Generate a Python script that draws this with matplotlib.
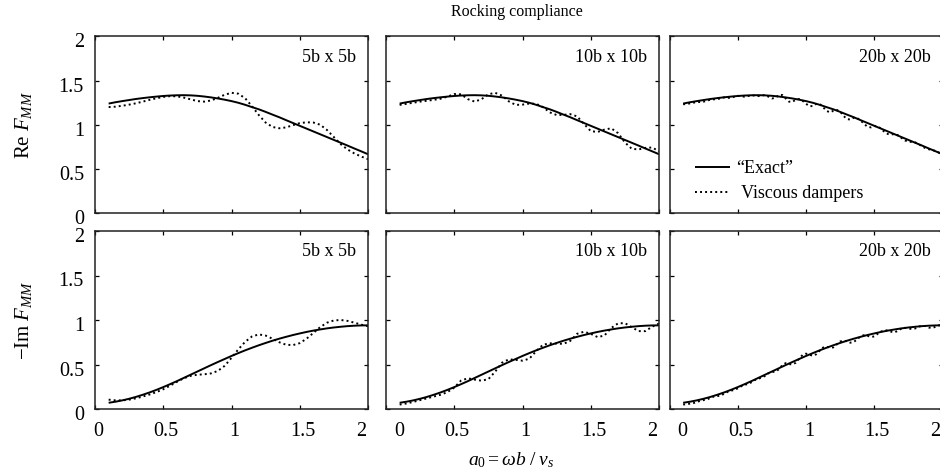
import numpy as np
import matplotlib
matplotlib.use("Agg")
import matplotlib.pyplot as plt
from matplotlib.transforms import ScaledTranslation

plt.rcParams["font.family"] = ["Liberation Serif", "DejaVu Serif"]
plt.rcParams["mathtext.fontset"] = "custom"
plt.rcParams["mathtext.rm"] = "Liberation Serif"
plt.rcParams["mathtext.it"] = "Liberation Serif:italic"
plt.rcParams["mathtext.bf"] = "Liberation Serif:bold"

# ---------------------------------------------------------------- data
# dimensionless frequency a0 = omega*b/vs
a0_coarse = np.linspace(0.1, 2.0, 39)   # step 0.05
a0_fine = np.linspace(0.1, 2.0, 77)     # step 0.025

# "Exact" rocking compliance (same reference solution in every panel)
exact_re = [1.240, 1.255, 1.268, 1.280, 1.292, 1.302, 1.311, 1.319, 1.326, 1.331,
            1.334, 1.335, 1.333, 1.328, 1.320, 1.310, 1.298, 1.284, 1.268, 1.249,
            1.226, 1.200, 1.175, 1.146, 1.115, 1.085, 1.052, 1.020, 0.988, 0.956,
            0.924, 0.892, 0.860, 0.828, 0.796, 0.764, 0.731, 0.699, 0.666]
exact_im = [0.070, 0.082, 0.097, 0.115, 0.136, 0.160, 0.186, 0.215, 0.246, 0.279,
            0.313, 0.349, 0.385, 0.421, 0.457, 0.493, 0.528, 0.562, 0.596, 0.628,
            0.659, 0.688, 0.716, 0.742, 0.767, 0.790, 0.811, 0.831, 0.849, 0.866,
            0.881, 0.894, 0.906, 0.916, 0.924, 0.931, 0.936, 0.939, 0.940]

# viscous-damper boundary, three truncated domain sizes
visc_re_5b = [1.200, 1.205, 1.215, 1.228, 1.243, 1.262, 1.282, 1.300, 1.315, 1.324,
              1.322, 1.308, 1.288, 1.268, 1.262, 1.275, 1.305, 1.340, 1.362, 1.352,
              1.300, 1.210, 1.110, 1.025, 0.975, 0.960, 0.970, 0.995, 1.018, 1.028,
              1.025, 1.000, 0.940, 0.860, 0.780, 0.720, 0.675, 0.640, 0.610]
visc_im_5b = [0.105, 0.097, 0.097, 0.105, 0.120, 0.140, 0.163, 0.190, 0.222, 0.262,
              0.305, 0.345, 0.372, 0.385, 0.390, 0.400, 0.428, 0.485, 0.575, 0.670,
              0.755, 0.815, 0.838, 0.825, 0.790, 0.750, 0.722, 0.718, 0.740, 0.790,
              0.855, 0.920, 0.970, 0.995, 1.000, 0.990, 0.970, 0.948, 0.930]

visc_re_10b = [1.225, 1.237, 1.250, 1.262, 1.272, 1.282, 1.295, 1.318, 1.348, 1.345,
               1.290, 1.262, 1.290, 1.345, 1.362, 1.330, 1.265, 1.225, 1.228, 1.240,
               1.238, 1.200, 1.140, 1.110, 1.112, 1.120, 1.095, 1.010, 0.928, 0.918,
               0.945, 0.960, 0.905, 0.800, 0.728, 0.720, 0.738, 0.742, 0.700]
visc_im_10b = [0.050, 0.062, 0.080, 0.100, 0.120, 0.140, 0.160, 0.190, 0.240, 0.320,
               0.345, 0.330, 0.318, 0.335, 0.420, 0.520, 0.558, 0.552, 0.543, 0.565,
               0.650, 0.722, 0.738, 0.735, 0.732, 0.765, 0.845, 0.868, 0.845, 0.808,
               0.825, 0.910, 0.962, 0.965, 0.920, 0.875, 0.875, 0.925, 0.960]

visc_re_20b = [1.232, 1.236, 1.242, 1.250, 1.256, 1.258, 1.262, 1.272, 1.285, 1.288,
               1.290, 1.300, 1.310, 1.305, 1.305, 1.318, 1.328, 1.322, 1.318, 1.325,
               1.335, 1.330, 1.325, 1.330, 1.338, 1.318, 1.298, 1.305, 1.335, 1.338,
               1.300, 1.262, 1.258, 1.285, 1.292, 1.272, 1.238, 1.210, 1.212, 1.236,
               1.236, 1.200, 1.158, 1.140, 1.158, 1.168, 1.150, 1.100, 1.065, 1.058,
               1.080, 1.075, 1.050, 1.010, 0.978, 0.970, 0.985, 0.982, 0.955, 0.918,
               0.895, 0.890, 0.895, 0.880, 0.850, 0.822, 0.808, 0.805, 0.800, 0.782,
               0.755, 0.735, 0.722, 0.714, 0.702, 0.684, 0.662]
visc_im_20b = [0.050, 0.055, 0.060, 0.066, 0.078, 0.092, 0.100, 0.108, 0.125, 0.140,
               0.145, 0.150, 0.172, 0.192, 0.205, 0.215, 0.232, 0.255, 0.270, 0.282,
               0.300, 0.325, 0.340, 0.352, 0.372, 0.402, 0.415, 0.420, 0.445, 0.490,
               0.515, 0.505, 0.500, 0.520, 0.565, 0.608, 0.622, 0.610, 0.598, 0.615,
               0.655, 0.690, 0.700, 0.690, 0.692, 0.725, 0.758, 0.770, 0.760, 0.745,
               0.752, 0.785, 0.815, 0.830, 0.822, 0.810, 0.815, 0.845, 0.870, 0.885,
               0.882, 0.868, 0.862, 0.880, 0.905, 0.912, 0.905, 0.898, 0.905, 0.925,
               0.935, 0.932, 0.915, 0.910, 0.925, 0.940, 0.945]

mesh_labels = ["5b x 5b", "10b x 10b", "20b x 20b"]
visc_re = [(a0_coarse, visc_re_5b), (a0_coarse, visc_re_10b), (a0_fine, visc_re_20b)]
visc_im = [(a0_coarse, visc_im_5b), (a0_coarse, visc_im_10b), (a0_fine, visc_im_20b)]

tick_values = [0, 0.5, 1, 1.5, 2]
tick_labels = ["0", "0.5", "1", "1.5", "2"]

# ---------------------------------------------------------------- figure
W, H, DPI = 940, 475, 100
fig = plt.figure(figsize=(W / DPI, H / DPI), dpi=DPI)


def px_axes(left, top, width, height):
    return fig.add_axes([left / W, 1 - (top + height) / H, width / W, height / H])


col_left = [95, 386, 669.5]
col_width = 273
rows = [(36.5, 176.5), (231, 178)]

solid_kw = dict(color="black", lw=1.4, ls="-", solid_capstyle="butt")
dot_kw = dict(color="black", lw=1.4, ls=(0, (1, 1.6)))


def offset(label, dx, dy):
    label.set_transform(label.get_transform() +
                        ScaledTranslation(dx / DPI, dy / DPI, fig.dpi_scale_trans))


axes = []
for r, (top, height) in enumerate(rows):
    for c in range(3):
        ax = px_axes(col_left[c], top, col_width, height)
        axes.append(ax)
        series = visc_re if r == 0 else visc_im
        exact = exact_re if r == 0 else exact_im
        ax.plot(a0_coarse, exact, label="\u201cExact\u201d", **solid_kw)
        ax.plot(series[c][0], series[c][1], label=" Viscous dampers", **dot_kw)

        ax.set_xlim(0, 2)
        ax.set_ylim(0, 2)
        ax.set_xticks(tick_values)
        ax.set_yticks(tick_values)
        ax.set_xticklabels(tick_labels)
        ax.set_yticklabels(tick_labels)
        ax.tick_params(direction="in", top=True, right=True, length=3, width=0.9,
                       labelsize=14.5, colors="black")
        ax.tick_params(axis="x", pad=9.5)
        ax.tick_params(axis="y", pad=8.0)
        ax.tick_params(labelbottom=(r == 1), labelleft=(c == 0))
        for sp in ax.spines.values():
            sp.set_linewidth(1.1)
            sp.set_color("#222222")

        ax.text(1 - 12 / col_width, 1 - 21 / height, mesh_labels[c],
                transform=ax.transAxes, ha="right", va="center", fontsize=13)

        if r == 1:
            for i, lab in enumerate(ax.get_xticklabels()):
                dx = 3
                if i == 0 and c > 0:
                    dx = 13
                if i == len(tick_values) - 1:
                    dx = -7
                offset(lab, dx, 0)
        if c == 0:
            for lab in ax.get_yticklabels():
                offset(lab, 0, -4)
            ylab = (r"$\mathrm{Re}\ F_{MM}$" if r == 0
                    else r"$-\mathrm{Im}\ F_{MM}$")
            ax.set_ylabel(ylab, fontsize=15, va="center")
            ax.yaxis.set_label_coords(-(95 - 23) / col_width, 0.5)

# legend in the upper-right panel
leg = axes[2].legend(loc="center left", bbox_to_anchor=(0.093, 0.18),
                     frameon=False, fontsize=13, handlelength=1.94,
                     handletextpad=0.37, labelspacing=0.45, borderpad=0,
                     borderaxespad=0)

fig.text(517 / W, 1 - 12 / H, "Rocking compliance", ha="center", va="center",
         fontsize=11.5)
fig.text(511 / W, 1 - 460 / H, r"$a_0 = \omega b\;/\;v_s$", ha="center",
         va="center", fontsize=14)

fig.savefig("out.png", dpi=DPI)
